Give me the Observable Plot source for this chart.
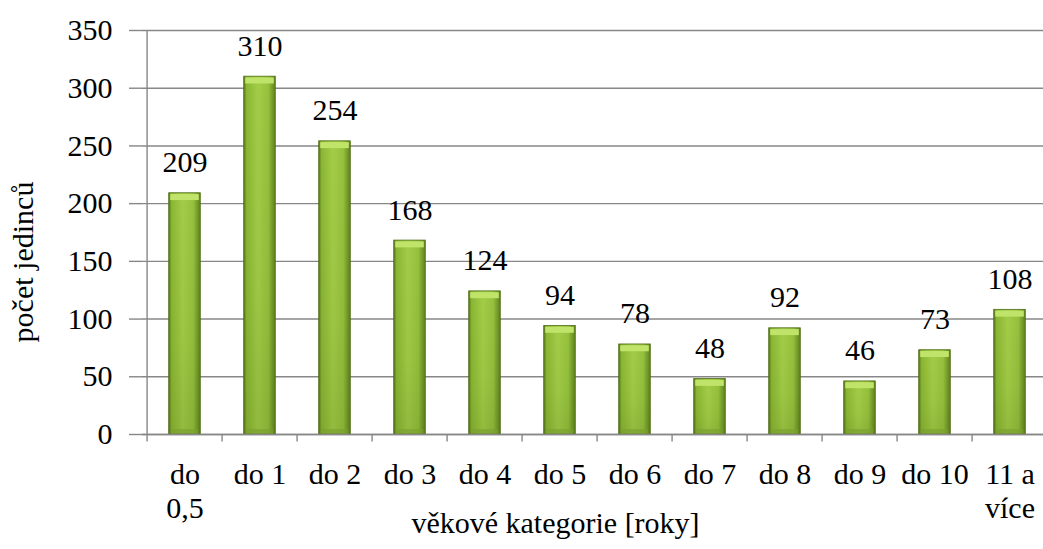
<!DOCTYPE html>
<html>
<head>
<meta charset="utf-8">
<script src="https://cdn.jsdelivr.net/npm/d3@7"></script>
<script src="https://cdn.jsdelivr.net/npm/@observablehq/plot@0.6"></script>
<style>
  html, body { margin: 0; padding: 0; background: white; overflow: hidden; }
  svg text { font-family: 'Liberation Serif', 'Times New Roman', serif; }
</style>
</head>
<body>
<div id="chart"></div>
<script>
const categories = ["do 0,5", "do 1", "do 2", "do 3", "do 4", "do 5", "do 6", "do 7", "do 8", "do 9", "do 10", "11 a více"];
const values = [209, 310, 254, 168, 124, 94, 78, 48, 92, 46, 73, 108];
const xTickLabels = ["do\n0,5", "do 1", "do 2", "do 3", "do 4", "do 5", "do 6", "do 7", "do 8", "do 9", "do 10", "11 a\nvíce"];
const yTicks = [0, 50, 100, 150, 200, 250, 300, 350];
const yTitle = "počet jedinců";
const xTitle = "věkové kategorie [roky]";

const data = categories.map((c, i) => ({category: c, value: values[i]}));
const labelOf = new Map(categories.map((c, i) => [c, xTickLabels[i]]));

const W = 1043, H = 549;
const mL = 142, mR = -9, mT = 30, mB = 115;
const step = (W - mR - mL) / categories.length;
const barW = 32.4;
const inset = (step - barW) / 2;
const gray = "#878787";
const font = "Liberation Serif";

const defs = () => {
  const d = d3.create("svg:defs");
  const g = d.append("linearGradient").attr("id", "barGrad").attr("x1", 0).attr("x2", 1).attr("y1", 0).attr("y2", 0);
  [["0%", "#55741a"], ["9%", "#8ab733"], ["45%", "#a3cd48"], ["78%", "#95c13d"], ["100%", "#5f811d"]]
    .forEach(([o, c]) => g.append("stop").attr("offset", o).attr("stop-color", c));
  const v = d.append("linearGradient").attr("id", "barShade").attr("x1", 0).attr("x2", 0).attr("y1", 0).attr("y2", 1);
  [["0%", 0], ["60%", 0.05], ["100%", 0.14]]
    .forEach(([o, a]) => v.append("stop").attr("offset", o).attr("stop-color", "#2c4a00").attr("stop-opacity", a));
  return d.node();
};

const yTitleMark = (index, scales, values, dims) => {
  const cy = (dims.marginTop + dims.height - dims.marginBottom) / 2 + 30;
  const t = d3.create("svg:text")
    .attr("transform", `translate(23,${cy}) rotate(-90)`)
    .attr("text-anchor", "middle")
    .attr("dy", "0.32em")
    .attr("font-size", 30)
    .attr("font-family", font)
    .attr("fill", "black")
    .text(yTitle);
  return t.node();
};

const chart = Plot.plot({
  width: W,
  height: H,
  marginLeft: mL,
  marginRight: mR,
  marginTop: mT,
  marginBottom: mB,
  style: {fontFamily: font, fontSize: "30px", background: "white", color: "black"},
  x: {domain: categories, padding: 0},
  y: {domain: [0, 350]},
  marks: [
    defs,
    Plot.gridY(yTicks, {stroke: gray, strokeOpacity: 1, strokeWidth: 1.4}),
    Plot.axisY(yTicks, {tickSize: 13, tickPadding: 17, fontSize: 30, fontFamily: font, label: null, stroke: gray, strokeWidth: 1.4}),
    Plot.ruleX(categories, {x: d => d, y1: 0, y2: -6.5, dx: -step / 2, stroke: gray, strokeWidth: 1.4}),
    Plot.axisX({tickSize: 0, tickPadding: 26, fontSize: 30, fontFamily: font, lineHeight: 1.12, label: null, tickFormat: d => labelOf.get(d)}),
    Plot.barY(data, {x: "category", y: "value", fill: "url(#barGrad)", stroke: "#4f6d16", strokeWidth: 0.8, insetLeft: inset, insetRight: inset}),
    Plot.barY(data, {x: "category", y: "value", fill: "url(#barShade)", insetLeft: inset, insetRight: inset}),
    Plot.tickY(data, {x: "category", y: "value", stroke: "#c0e46a", strokeWidth: 6, dy: 3.8, insetLeft: inset + 1.5, insetRight: inset + 1.5}),
    Plot.tickY(data, {x: "category", y: 0, stroke: "#7a9f2e", strokeOpacity: 0.6, strokeWidth: 5, dy: -3, insetLeft: inset + 2, insetRight: inset + 2}),
    Plot.ruleY([0], {stroke: gray, strokeWidth: 1.4}),
    Plot.ruleX([categories[0]], {x: d => d, y1: 0, y2: 350, dx: -step / 2, stroke: gray, strokeWidth: 1.4}),
    Plot.text(data, {x: "category", y: "value", text: d => String(d.value), lineAnchor: "bottom", dy: -21, fontSize: 30, fontFamily: font, fill: "black"}),
    Plot.text([xTitle], {frameAnchor: "bottom", dx: 555 - (mL + (W - mR)) / 2, dy: 98, lineAnchor: "bottom", fontSize: 30, fontFamily: font, fill: "black"}),
    yTitleMark
  ]
});

document.getElementById("chart").appendChild(chart);
</script>
</body>
</html>
